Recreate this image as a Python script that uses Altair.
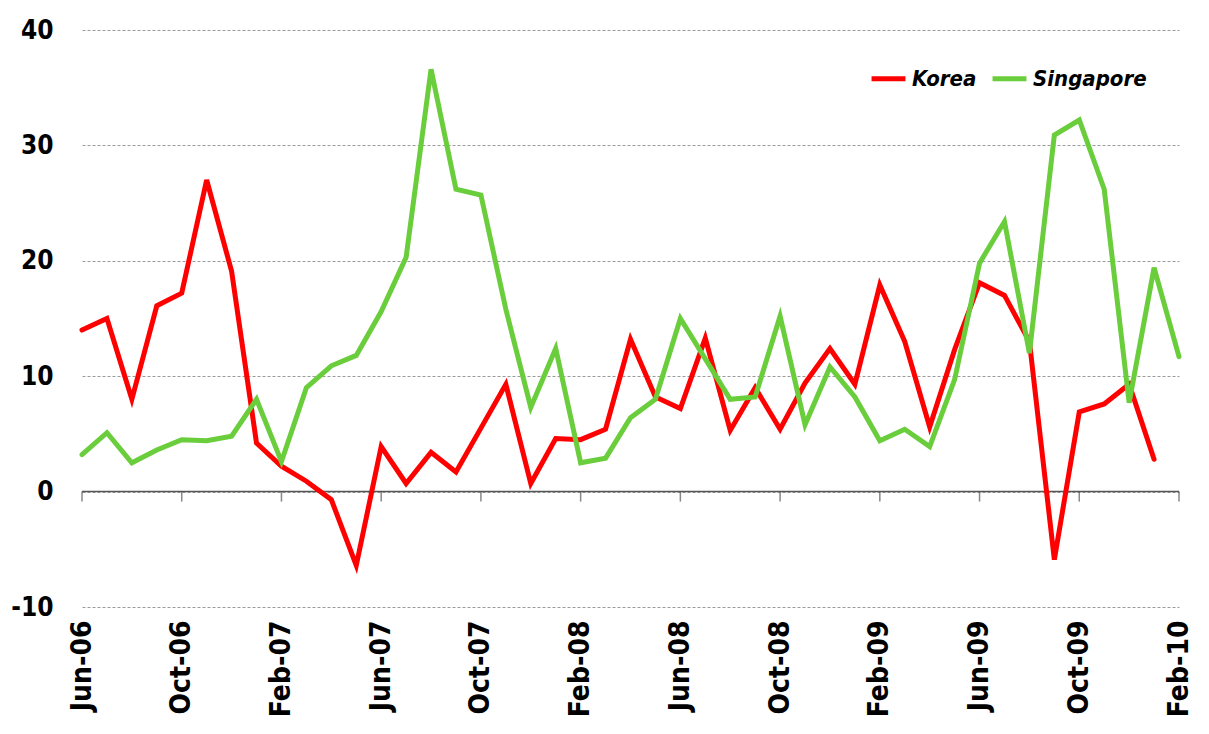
import altair as alt
import pandas as pd

months = ["Jun-06","Jul-06","Aug-06","Sep-06","Oct-06","Nov-06","Dec-06",
          "Jan-07","Feb-07","Mar-07","Apr-07","May-07","Jun-07","Jul-07","Aug-07","Sep-07","Oct-07","Nov-07","Dec-07",
          "Jan-08","Feb-08","Mar-08","Apr-08","May-08","Jun-08","Jul-08","Aug-08","Sep-08","Oct-08","Nov-08","Dec-08",
          "Jan-09","Feb-09","Mar-09","Apr-09","May-09","Jun-09","Jul-09","Aug-09","Sep-09","Oct-09","Nov-09","Dec-09",
          "Jan-10","Feb-10"]

korea = [14.0, 15.0, 8.0, 16.1, 17.2, 27.0, 19.1,
         4.2, 2.2, 0.9, -0.7, -6.4, 3.9, 0.7, 3.4, 1.7, 5.5, 9.3, 0.7,
         4.6, 4.5, 5.4, 13.2, 8.2, 7.2, 13.3, 5.3, 9.0, 5.4, 9.4, 12.4,
         9.3, 17.9, 13.0, 5.6, 12.3, 18.1, 17.0, 13.0, -5.9, 6.9, 7.6, 9.3,
         2.8, None]

singapore = [3.2, 5.1, 2.5, 3.6, 4.5, 4.4, 4.8,
             8.0, 2.6, 9.0, 10.9, 11.8, 15.6, 20.3, 36.6, 26.2, 25.7, 15.8, 7.3,
             12.4, 2.5, 2.9, 6.4, 8.0, 15.0, 11.5, 8.0, 8.2, 15.2, 5.8, 10.8,
             8.2, 4.4, 5.4, 3.9, 9.7, 19.8, 23.4, 12.0, 30.9, 32.2, 26.2, 7.7,
             19.4, 11.7]

series_names = ["Korea", "Singapore"]
series_colors = ["#ff0000", "#6acd3c"]

tick_labels = ["Jun-06","Oct-06","Feb-07","Jun-07","Oct-07","Feb-08","Jun-08",
               "Oct-08","Feb-09","Jun-09","Oct-09","Feb-10"]
y_ticks = [-10, 0, 10, 20, 30, 40]

FONT = "DejaVu Sans Condensed"

rows = []
for i, m in enumerate(months):
    for name, vals in zip(series_names, [korea, singapore]):
        if vals[i] is not None:
            rows.append({"idx": i, "month": m, "series": name, "value": vals[i]})
df = pd.DataFrame(rows)

tick_idx = [months.index(t) for t in tick_labels]
ticks_df = pd.DataFrame({"idx": tick_idx, "label": tick_labels})

label_expr = "[" + ",".join("'" + t + "'" for t in tick_labels) + "][round(datum.value/4)]"

x_scale = alt.Scale(domain=[0, len(months) - 1], nice=False, zero=False)
y_scale = alt.Scale(domain=[-10, 40], nice=False, zero=False)

base = alt.Chart(df)

lines = base.mark_line(strokeWidth=5, strokeCap="round", strokeJoin="miter").encode(
    x=alt.X("idx:Q", scale=x_scale,
            axis=alt.Axis(values=tick_idx, labelExpr=label_expr, title=None,
                          labelAngle=270, labelFontSize=28, labelFont=FONT,
                          labelFontWeight="bold", labelColor="#000000",
                          labelPadding=13, domain=False, ticks=False, grid=False)),
    y=alt.Y("value:Q", scale=y_scale,
            axis=alt.Axis(values=y_ticks, title=None, labelFontSize=26, labelFont=FONT,
                          labelFontWeight="bold", labelColor="#000000", labelPadding=29,
                          labelExpr="toString(datum.value)",
                          domain=False, ticks=False, grid=True, gridColor="#9a9a9a",
                          gridDash=[3, 2], gridWidth=1)),
    color=alt.Color("series:N",
                    scale=alt.Scale(domain=series_names, range=series_colors),
                    legend=alt.Legend(title=None, orient="none", legendX=787, legendY=29,
                                      direction="horizontal", symbolType="stroke",
                                      symbolStrokeWidth=5, symbolSize=1150,
                                      labelFont=FONT, labelFontSize=22,
                                      labelFontStyle="italic", labelFontWeight="bold",
                                      labelColor="#000000", columnPadding=5,
                                      labelOffset=4)),
    order="idx:Q",
)

zero_rule = alt.Chart(pd.DataFrame({"v": [0]})).mark_rule(color="#555555", strokeWidth=1.5).encode(
    y=alt.Y("v:Q", scale=y_scale)
)

tick_marks = alt.Chart(ticks_df).mark_tick(color="#555555", thickness=1.5, size=10,
                                            orient="vertical", yOffset=5).encode(
    x=alt.X("idx:Q", scale=x_scale),
    y=alt.YDatum(0),
)

chart = alt.layer(zero_rule, tick_marks, lines).properties(
    width=1097, height=577,
    autosize=alt.AutoSizeParams(type="none"),
    padding={"left": 74, "top": 22, "right": 20, "bottom": 112},
    background="#ffffff",
).configure_view(stroke=None)

chart.save("out.html", embed_options={"renderer": "svg", "actions": False})
